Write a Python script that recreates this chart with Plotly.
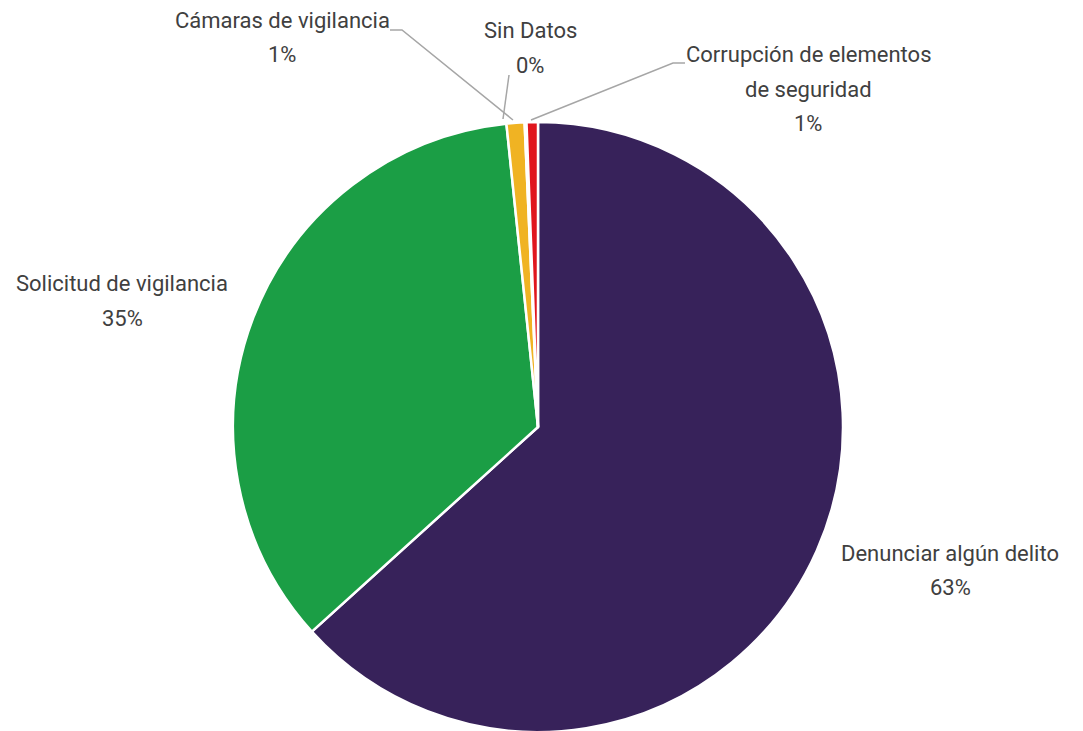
import plotly.graph_objects as go

W, H = 1083, 731
OFF = 8  # page body margin offset

labels = ["Denunciar algún delito", "Solicitud de vigilancia", "Cámaras de vigilancia",
          "Sin Datos", "Corrupción de elementos de seguridad"]
values = [63.2, 35.0, 0.95, 0.1, 0.6]
colors = ["#37225A", "#1B9E45", "#F0B323", "#A6A6A6", "#E0161E"]
label_lines = [["Denunciar algún delito"], ["Solicitud de vigilancia"], ["Cámaras de vigilancia"],
               ["Sin Datos"], ["Corrupción de elementos", "de seguridad"]]

# label centres (screen pixels) and leader lines (screen pixels)
label_pos = [(950, 570), (122, 301), (282, 37), (530, 48), (808, 89)]
LINE_GAP = 34
leaders = {
    2: [(390, 30), (402, 30), (513, 120)],
    3: [(509, 75), (503, 119)],
    4: [(685, 63), (673, 63), (531, 120)],
}

FONT = "Roboto, Liberation Sans, sans-serif"
TXT = "#404040"

def px(x, y):
    return (x - OFF) / W, 1 - (y - OFF) / H

total = sum(values)
fig = go.Figure(go.Pie(
    labels=labels, values=values, sort=False, direction="clockwise", rotation=0,
    marker=dict(colors=colors, line=dict(color="white", width=2.5)),
    textinfo="none", hoverinfo="label+percent", showlegend=False,
    domain=dict(x=[(233 - OFF) / W, (843 - OFF) / W], y=[1 - (732 - OFF) / H, 1 - (122 - OFF) / H]),
))

annotations = []
for i, (lines, v) in enumerate(zip(label_lines, values)):
    all_lines = lines + [f"{round(v / total * 100):.0f}%"]
    n = len(all_lines)
    cx, cy = label_pos[i]
    for k, t in enumerate(all_lines):
        x, y = px(cx, cy + (k - (n - 1) / 2) * LINE_GAP)
        annotations.append(dict(
            x=x, y=y, xref="paper", yref="paper", showarrow=False, text=t,
            font=dict(family=FONT, size=22, color=TXT),
            xanchor="center", yanchor="middle",
        ))

shapes = []
for i, pts in leaders.items():
    p = [px(*q) for q in pts]
    path = "M " + " L ".join(f"{a},{b}" for a, b in p)
    shapes.append(dict(type="path", path=path, xref="paper", yref="paper",
                       line=dict(color="#A6A6A6", width=1.5)))

fig.update_layout(
    width=W, height=H, margin=dict(l=0, r=0, t=0, b=0),
    paper_bgcolor="white", plot_bgcolor="white",
    annotations=annotations, shapes=shapes,
)

fig.write_html("out.html")
